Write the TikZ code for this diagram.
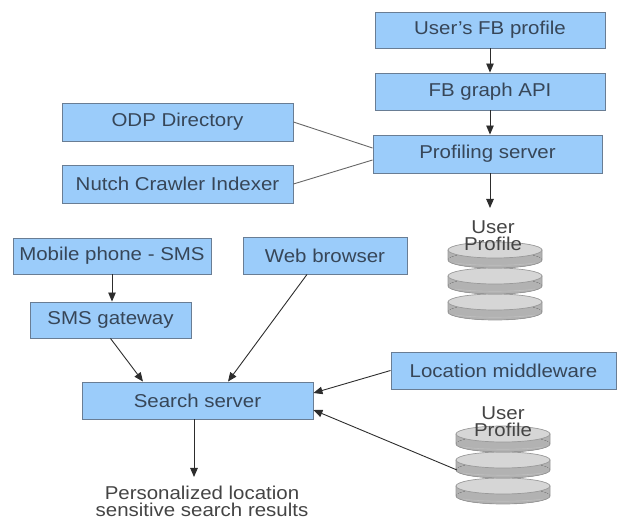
\documentclass[tikz,border=0pt]{standalone}
\usepackage{fontspec}
\setmainfont[FakeStretch=1.1]{Liberation Sans}
\usetikzlibrary{arrows.meta}
\definecolor{boxfill}{RGB}{155,204,250}
\definecolor{boxline}{RGB}{105,125,148}
\definecolor{boxtext}{RGB}{55,70,88}
\definecolor{lbltext}{RGB}{68,68,68}
\definecolor{linec}{RGB}{45,45,45}
\tikzset{
  box/.style={draw=boxline, line width=0.9pt, fill=boxfill, inner sep=0pt,
    text=boxtext, font=\fontsize{18.6}{20}\selectfont},
  lbl/.style={inner sep=0pt, align=center, text=lbltext,
    font=\fontsize{18.6}{17}\selectfont},
  arr/.style={draw=linec, line width=0.9pt, -{Triangle[length=9pt,width=7.5pt]}},
  plain/.style={draw=black!60, line width=0.9pt},
  diskbody/.style={left color=black!30, middle color=black!10, right color=black!30},
  diskline/.style={draw=black!40, line width=0.7pt},
  disk/.pic={
    \fill[diskbody] (-47,0) rectangle (47,10);
    \fill[diskbody] (0,10) ellipse (47 and 8);
    \draw[diskline] (-47,0) -- (-47,10) arc(180:0:47 and 8) -- (47,0);
    \draw[diskline, left color=black!16, middle color=black!5, right color=black!16] (0,0) ellipse (47 and 8);
    \draw[black!25, line width=0.6pt] (-40,13) .. controls (-20,16) and (20,16) .. (40,13);
  }
}
\begin{document}
\begin{tikzpicture}[x=1pt,y=-1pt]
\useasboundingbox (0,0) rectangle (622,521);
% databases
\pic at (495,302) {disk};
\pic at (495,276) {disk};
\pic at (495,250) {disk};
\pic at (503,486) {disk};
\pic at (503,460) {disk};
\pic at (503,434) {disk};
\coordinate (db2w) at (457,470);
% boxes
\node[box, minimum width=230pt, minimum height=36pt] (fbp) at (490,30) {User's FB profile};
\node[box, minimum width=230pt, minimum height=37pt] (api) at (490,91.5) {FB graph API};
\node[box, minimum width=229pt, minimum height=38pt] (prof) at (487.5,154) {Profiling server};
\node[box, minimum width=231pt, minimum height=38pt] (odp) at (177.5,122) {ODP Directory};
\node[box, minimum width=231pt, minimum height=38pt] (nutch) at (177.5,184) {Nutch Crawler Indexer};
\node[box, minimum width=198pt, minimum height=36pt] (mob) at (112,256) {Mobile phone - SMS};
\node[box, minimum width=161pt, minimum height=36pt] (smsg) at (110.5,320) {SMS gateway};
\node[box, minimum width=164pt, minimum height=37pt] (web) at (325,255.5) {Web browser};
\node[box, minimum width=231pt, minimum height=37pt] (search) at (197.5,400.5) {Search server};
\node[box, minimum width=225pt, minimum height=37pt] (loc) at (503.5,370.5) {Location middleware};
% labels
\node[lbl, anchor=north] (ul1) at (493,221) {User\\Profile};
\node[lbl, anchor=north] (ul2) at (503,407) {User\\Profile};
\node[lbl, anchor=north] (res) at (202,486) {Personalized location\\sensitive search results};
% connectors
\draw[arr] (fbp.south) -- (api.north);
\draw[arr] (api.south) -- (api.south |- prof.north);
\draw[plain] (odp.east) -- ([yshift=6pt]prof.west);
\draw[plain] (nutch.east) -- ([yshift=-6pt]prof.west);
\draw[arr, shorten >=13pt] ([xshift=2.5pt]prof.south) -- ([xshift=2.5pt]prof.south |- ul1.north);
\draw[arr] (mob.south) -- (mob.south |- smsg.north);
\draw[arr] (smsg.south) -- ([xshift=-54.5pt]search.north);
\draw[arr] ([xshift=-18pt]web.south) -- ([xshift=30.5pt]search.north);
\draw[arr] (loc.west) -- ([yshift=7.5pt]search.east);
\draw[arr] (db2w) -- ([yshift=-9.5pt]search.east);
\draw[arr, shorten >=9pt] ([xshift=-3.5pt]search.south) -- ([xshift=-3.5pt]search.south |- res.north);
\end{tikzpicture}
\end{document}
